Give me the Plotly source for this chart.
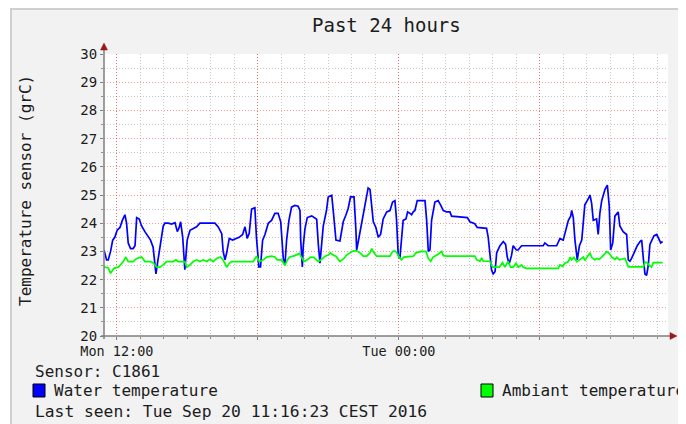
import plotly.graph_objects as go
import pandas as pd

# ---------------- data ----------------
BASE_DAY = "2016-09-19"          # Monday
# hours since Mon 00:00
water_hours = [11.45,11.56,11.63,11.73,11.82,11.91,12.01,12.13,12.23,12.34,
               12.41,12.48,12.58,12.69,12.77,12.84,12.95,13.05,13.19,13.33,
               13.43,13.54,13.62,13.66,13.73,13.83,13.97,14.04,14.18,14.33,
               14.47,14.57,14.65,14.71,14.80,14.89,14.99,15.11,15.25,15.39,
               15.53,15.67,15.82,16.03,16.17,16.31,16.46,16.52,16.60,16.67,
               16.78,16.92,17.06,17.20,17.35,17.45,17.52,17.54,17.63,17.73,
               17.87,17.94,18.04,18.11,18.20,18.30,18.44,18.58,18.72,18.86,
               18.97,19.01,19.08,19.15,19.22,19.32,19.43,19.57,19.71,19.79,
               19.82,19.89,19.93,20.00,20.10,20.29,20.43,20.50,20.57,20.64,
               20.78,20.92,20.99,21.14,21.21,21.32,21.49,21.63,21.74,21.84,
               21.94,22.09,22.17,22.20,22.27,22.46,22.55,22.63,22.69,22.77,
               22.84,22.91,23.02,23.12,23.22,23.33,23.48,23.62,23.73,23.83,
               23.90,23.97,24.04,24.11,24.18,24.30,24.37,24.47,24.54,24.61,
               24.68,24.78,25.11,25.18,25.25,25.32,25.39,25.53,25.67,25.77,
               25.89,26.03,26.17,26.24,26.74,26.91,27.02,27.23,27.33,27.73,
               27.80,27.87,27.94,28.01,28.09,28.16,28.23,28.30,28.44,28.54,
               28.61,28.69,28.79,28.86,29.00,29.07,29.22,30.14,30.21,30.35,
               30.71,30.85,30.99,31.14,31.21,31.31,31.35,31.42,31.49,31.59,
               31.68,31.78,31.85,31.91,32.05,32.13,32.20,32.27,32.41,32.48,
               32.55,32.63,32.77,32.87,32.95,33.01,33.10,33.19,33.33,33.40,
               33.54,33.69,33.76,33.83,33.90,34.04,34.14,34.26,34.33,34.40,
               34.47,34.54,34.61,34.68,34.85,34.97,35.08,35.14,35.22]
water_temp = [23.05,22.7,22.7,23.0,23.4,23.5,23.75,23.85,24.1,24.3,
              24.0,23.3,23.1,23.1,23.2,24.2,24.15,23.9,23.7,23.5,
              23.4,23.15,22.6,22.2,22.6,23.2,23.9,24.0,24.0,23.97,
              24.02,23.7,23.85,24.05,23.5,22.35,23.4,23.75,23.8,23.87,
              24.0,24.0,24.02,24.02,24.0,23.87,23.63,23.0,22.7,22.95,
              23.46,23.4,23.46,23.5,23.6,23.87,23.58,23.46,23.64,24.5,
              24.55,23.46,22.45,22.45,23.4,23.6,24.0,24.1,24.35,24.35,
              24.05,23.5,22.75,22.52,23.4,24.1,24.57,24.63,24.6,24.45,
              23.4,22.45,23.2,23.8,24.2,24.26,24.2,24.14,23.25,22.58,
              23.9,24.46,24.93,24.99,24.4,23.4,23.37,24.05,24.28,24.52,
              24.93,24.93,23.75,23.05,23.35,24.2,24.6,24.9,25.25,25.2,
              24.6,24.05,23.85,23.5,23.6,24.15,24.4,24.45,24.75,24.8,
              24.1,22.87,22.75,23.4,24.1,24.15,24.4,24.35,24.3,24.4,
              24.45,24.8,24.8,24.1,23.0,23.05,24.1,24.75,24.8,24.65,
              24.45,24.4,24.4,24.25,24.22,24.2,24.05,23.98,23.85,23.82,
              23.5,22.95,22.35,22.2,22.28,22.95,23.1,23.2,23.35,23.25,
              22.8,22.55,22.85,23.2,23.05,23.05,23.2,23.2,23.3,23.2,
              23.2,23.45,23.4,23.95,24.1,24.25,24.45,24.2,23.4,22.7,
              23.2,23.4,24.0,24.65,24.85,25.0,24.7,24.1,24.15,23.6,
              24.35,24.8,25.2,25.35,24.6,23.05,23.3,24.25,24.4,23.9,
              23.7,23.6,22.7,22.65,22.75,23.0,23.2,23.35,23.4,22.75,
              22.2,22.15,22.5,23.25,23.55,23.6,23.4,23.3,23.35]

ambient_hours = [11.45,11.63,11.73,11.87,12.06,12.27,12.38,12.48,12.69,12.84,
                 13.05,13.19,13.40,13.54,13.69,13.83,13.97,14.11,14.40,14.51,
                 14.61,14.89,14.97,15.11,15.25,15.39,15.53,15.67,15.82,15.96,
                 16.10,16.24,16.41,16.52,16.67,16.78,16.88,17.80,17.94,18.06,
                 18.23,18.37,18.58,18.72,18.82,19.01,19.15,19.25,19.36,19.57,
                 19.76,19.86,19.96,20.10,20.24,20.38,20.57,20.71,20.86,20.99,
                 21.09,21.20,21.32,21.49,21.66,21.77,21.91,22.06,22.20,22.37,
                 22.48,22.63,22.77,22.84,22.94,23.05,23.62,23.73,23.83,23.93,
                 24.01,24.11,24.21,24.61,24.72,24.82,24.96,25.15,25.25,25.35,
                 25.46,25.67,25.82,25.89,26.03,27.23,27.31,27.45,27.52,27.59,
                 27.87,27.99,28.27,28.41,28.51,28.65,28.75,28.86,28.98,29.08,
                 29.22,29.29,29.43,30.78,30.85,30.97,31.06,31.21,31.28,31.35,
                 31.45,31.57,31.71,31.85,31.91,32.05,32.13,32.20,32.34,32.41,
                 32.52,32.63,32.77,32.84,32.95,33.06,33.20,33.27,33.38,33.52,
                 33.62,33.76,34.40,34.47,34.57,34.65,34.75,34.82,35.22]
ambient_temp = [22.44,22.42,22.22,22.4,22.44,22.64,22.8,22.64,22.64,22.75,
                22.8,22.64,22.64,22.6,22.44,22.44,22.52,22.64,22.64,22.7,
                22.64,22.64,22.44,22.52,22.64,22.7,22.64,22.7,22.64,22.72,
                22.64,22.75,22.8,22.7,22.44,22.58,22.64,22.64,22.83,22.64,
                22.7,22.8,22.83,22.8,22.7,22.7,22.5,22.7,22.8,22.85,
                22.93,22.8,22.64,22.7,22.8,22.79,22.64,22.72,22.83,22.87,
                22.95,22.87,22.83,22.64,22.75,22.87,22.95,23.02,23.02,22.93,
                22.83,22.83,22.95,23.1,22.95,22.83,22.83,23.0,23.02,22.93,
                22.8,22.7,22.8,22.83,22.95,22.97,23.0,23.0,22.75,22.65,
                22.8,22.9,23.0,22.85,22.83,22.83,22.7,22.65,22.77,22.65,
                22.65,22.44,22.44,22.6,22.44,22.65,22.44,22.44,22.58,22.44,
                22.52,22.44,22.4,22.4,22.52,22.47,22.58,22.64,22.79,22.7,
                22.79,22.63,22.7,22.8,22.68,22.87,22.95,22.79,22.7,22.75,
                22.72,22.8,22.93,22.99,22.93,22.79,22.72,22.79,22.7,22.72,
                22.75,22.45,22.45,22.62,22.6,22.5,22.44,22.6,22.6]

x_range_hours = [11.45, 35.45]
x_tick_hours = [12, 18, 24, 30]
x_tick_text = ["Mon 12:00", "", "Tue 00:00", ""]
y_range = [20, 30]

title_text = "Past 24 hours"
y_title = "Temperature sensor (grC)"
sensor_text = "Sensor: C1861"
series_names = ["Water temperature", "Ambiant temperature"]
series_colors = ["#0000FF", "#00FF00"]
last_seen = "Last seen: Tue Sep 20 11:16:23 CEST 2016"

# ---------------- build ----------------
base = pd.Timestamp(BASE_DAY)
to_time = lambda hrs: base + pd.to_timedelta(hrs, unit="h")

FONT = "DejaVu Sans Mono"
TXT = "#1c1c1c"
OFF = 8                      # page body margin of the browser
W, H = 686 - OFF, 424 - OFF
L, R, T, B = 104 - OFF, 18, 54 - OFF, 88
PW, PH = W - L - R, H - T - B
PL, PB = 104, 336            # plot-area left / bottom in window pixels


def px(x):   # window pixel -> paper x
    return (x - PL) / PW


def py(y):   # window pixel -> paper y
    return (PB - y) / PH


fig = go.Figure()
fig.add_trace(go.Scatter(x=to_time(water_hours), y=water_temp, mode="lines",
                         line=dict(color=series_colors[0], width=1.7),
                         name=series_names[0], showlegend=False))
fig.add_trace(go.Scatter(x=to_time(ambient_hours), y=ambient_temp, mode="lines",
                         line=dict(color=series_colors[1], width=1.7),
                         name=series_names[1], showlegend=False))

RED_GRID = "rgba(255,0,0,0.42)"
GRAY_GRID = "rgba(120,120,120,0.40)"
DASH = "1px,2px"

fig.update_xaxes(
    type="date",
    range=[to_time(x_range_hours[0]), to_time(x_range_hours[1])],
    tickmode="array", tickvals=list(to_time(x_tick_hours)), ticktext=x_tick_text,
    showgrid=True, gridcolor=RED_GRID, griddash=DASH, gridwidth=1,
    ticks="outside", ticklen=3, tickcolor="#808080",
    minor=dict(dtick=3600000, tick0=BASE_DAY, showgrid=True, gridcolor=GRAY_GRID,
               griddash=DASH, ticks="outside", ticklen=2, tickcolor="#909090"),
    tickfont=dict(family=FONT, size=13.5, color=TXT),
    zeroline=False, showline=False, fixedrange=True,
)
fig.update_yaxes(
    range=y_range, tickmode="linear", tick0=20, dtick=1,
    showgrid=True, gridcolor=RED_GRID, griddash=DASH, gridwidth=1,
    ticks="outside", ticklen=3, tickcolor="#808080",
    minor=dict(dtick=0.5, showgrid=True, gridcolor=GRAY_GRID, griddash=DASH,
               ticks="outside", ticklen=2, tickcolor="#909090"),
    tickfont=dict(family=FONT, size=14, color=TXT),
    zeroline=False, showline=False, fixedrange=True,
)

shapes = []
# white page strip left of the frame
shapes.append(dict(type="rect", xref="paper", yref="paper", x0=px(0), x1=px(10),
                   y0=py(H + 40), y1=py(0), fillcolor="#FFFFFF", line=dict(width=0)))
# frame shade lines
shapes.append(dict(type="line", xref="paper", yref="paper", x0=px(10), x1=px(700),
                   y0=py(9), y1=py(9), line=dict(color="#CFCFCF", width=2)))
shapes.append(dict(type="line", xref="paper", yref="paper", x0=px(11), x1=px(11),
                   y0=py(8), y1=py(450), line=dict(color="#CFCFCF", width=2)))
# axes
AX = "#7E7E7E"
ARROW = "#9A1A1A"
shapes.append(dict(type="line", xref="paper", yref="paper", x0=0, x1=0,
                   y0=py(PB + 3), y1=py(49), line=dict(color=AX, width=1.5)))
shapes.append(dict(type="line", xref="paper", yref="paper", x0=px(PL - 3), x1=px(671),
                   y0=0, y1=0, line=dict(color=AX, width=1.5)))
# arrow heads (pixel-sized, built in paper units)
ux, uy = 1.0 / PW, 1.0 / PH
shapes.append(dict(type="path", xref="paper", yref="paper",
                   path=f"M {-3.5*ux} {py(50)} L {3.5*ux} {py(50)} L 0 {py(43)} Z",
                   fillcolor=ARROW, line=dict(color=ARROW, width=0.5)))
shapes.append(dict(type="path", xref="paper", yref="paper",
                   path=f"M {px(670)} {3.5*uy} L {px(670)} {-3.5*uy} L {px(677)} 0 Z",
                   fillcolor=ARROW, line=dict(color=ARROW, width=0.5)))
# legend colour boxes
shapes.append(dict(type="rect", xref="paper", yref="paper", x0=px(33), x1=px(45),
                   y0=py(384), y1=py(397), fillcolor=series_colors[0],
                   line=dict(color="#000000", width=1)))
shapes.append(dict(type="rect", xref="paper", yref="paper", x0=px(481), x1=px(493),
                   y0=py(384), y1=py(397), fillcolor=series_colors[1],
                   line=dict(color="#000000", width=1)))

annotations = [
    dict(text=title_text, x=px(386), y=py(25), xref="paper", yref="paper",
         xanchor="center", yanchor="middle", showarrow=False,
         font=dict(family=FONT, size=19, color=TXT)),
    dict(text=y_title, x=px(25), y=py(191), xref="paper", yref="paper",
         xanchor="center", yanchor="middle", showarrow=False, textangle=-90,
         font=dict(family=FONT, size=16, color=TXT)),
    dict(text=sensor_text, x=px(33), y=py(371), xref="paper", yref="paper",
         xanchor="left", yanchor="middle", showarrow=False,
         font=dict(family=FONT, size=16, color=TXT)),
    dict(text=series_names[0], x=px(52), y=py(391), xref="paper", yref="paper",
         xanchor="left", yanchor="middle", showarrow=False,
         font=dict(family=FONT, size=16, color=TXT)),
    dict(text=series_names[1], x=px(500), y=py(391), xref="paper", yref="paper",
         xanchor="left", yanchor="middle", showarrow=False,
         font=dict(family=FONT, size=16, color=TXT)),
    dict(text=last_seen, x=px(33), y=py(411), xref="paper", yref="paper",
         xanchor="left", yanchor="middle", showarrow=False,
         font=dict(family=FONT, size=16.3, color=TXT)),
]

fig.update_layout(
    width=W, height=H,
    margin=dict(l=L, r=R, t=T, b=B, pad=0),
    paper_bgcolor="#F2F2F2", plot_bgcolor="#FFFFFF",
    shapes=shapes, annotations=annotations,
    showlegend=False,
    font=dict(family=FONT, color=TXT),
)

fig.write_html("out.html")
